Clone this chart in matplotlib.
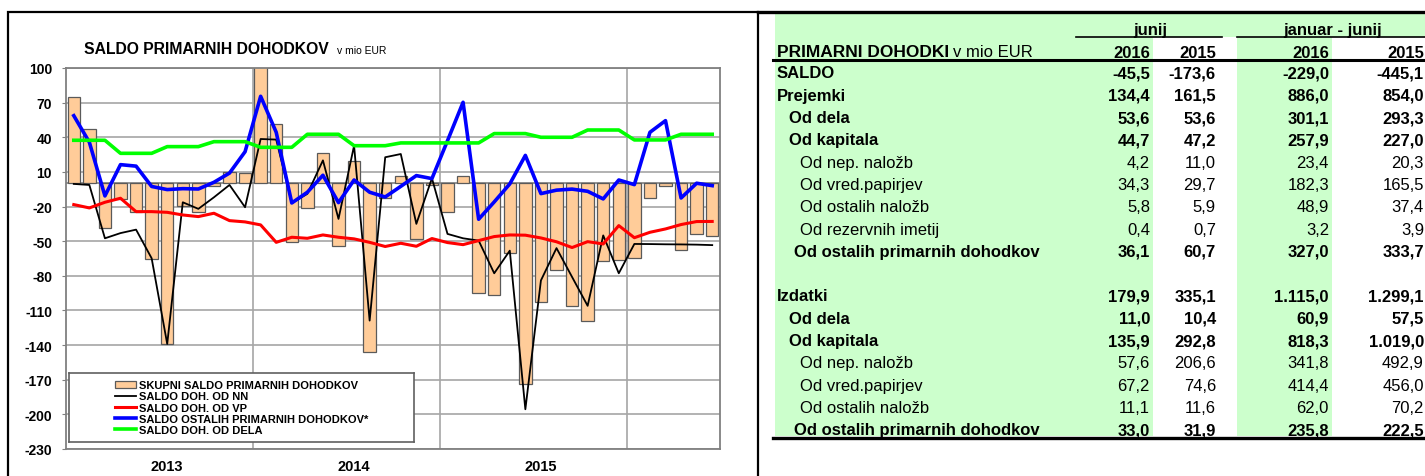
import numpy as np
import matplotlib
matplotlib.use('Agg')
import matplotlib.pyplot as plt
from matplotlib.patches import Rectangle

plt.rcParams['font.family'] = ['Liberation Sans', 'DejaVu Sans']
plt.rcParams['axes.unicode_minus'] = False

# monthly data, jan 2013 - jun 2016 (mio EUR)
year_labels = ['2013', '2014', '2015']
saldo_skupni = [75, 47, -39, -13.5, -25, -65, -139, -19.5, -25, -2.5, 9.5, 9,
                105, 51.5, -51, -21.5, 26.5, -54, 19.3, -146, -12.5, 6.6, -48.5, -1.5,
                -24.4, 6.7, -95, -97, -60, -173.6, -103, -75, -106, -118.8, -66.8, -66,
                -64.8, -13, -2, -58, -43.7, -45.5]
saldo_nn = [-0.4, -1.3, -47.5, -43, -40, -64.8, -139, -16.3, -22, -12, -1.3, -20.6,
            38.5, 38, -17, -9, 20, -30.7, 32.7, -118.8, 22.7, 25.5, -35, 4.5,
            -43.7, -47.5, -49.5, -77.8, -58.2, -195.6, -84, -56, -81, -106, -45, -77.8,
            -52.4, -52.5, -52.7, -52.8, -53, -53.4]
saldo_vp = [-18.3, -21.2, -16.3, -12.8, -24.4, -24.4, -25, -27.3, -28.7, -25.8, -32.2, -33.3,
            -35.9, -51, -46.6, -47.5, -44.6, -46.6, -48, -51, -54.6, -51.8, -54.4, -47.7,
            -51.2, -53, -49.5, -46, -44.6, -44.8, -47.2, -50.5, -55.5, -50.4, -52.4, -36.5,
            -47, -42.3, -39.4, -35.6, -33, -32.9]
saldo_ostali = [58.7, 35.7, -10.8, 16.3, 15, -2.6, -5.3, -4.5, -4.8, 1, 9, 27.5,
                75.5, 44.3, -16.9, -7.6, 7.1, -16.6, 3, -7.6, -11.7, -2.5, 6.8, 4.2,
                37, 70.3, -31, -16, -0.4, 24.3, -8.8, -5.8, -4.9, -6.8, -13.4, 3,
                -1, 44.3, 54.4, -12.6, 0.2, -1.9]
saldo_dela = [37.4, 37.4, 37.4, 26.1, 26.1, 26.1, 31.9, 31.9, 31.9, 36.2, 36.2, 36.2,
              31.3, 31.3, 31.3, 42.6, 42.6, 42.6, 32.7, 32.7, 32.7, 35.1, 35.1, 35.1,
              35.1, 35.1, 35.1, 43.2, 43.2, 43.2, 40, 40, 40, 46.3, 46.3, 46.3,
              37.7, 37.7, 37.7, 42.6, 42.6, 42.6]
series_names = ['SKUPNI SALDO PRIMARNIH DOHODKOV', 'SALDO DOH. OD NN', 'SALDO DOH. OD VP',
                'SALDO OSTALIH PRIMARNIH DOHODKOV*', 'SALDO DOH. OD DELA']

# table
row_labels = ['SALDO', 'Prejemki', 'Od dela', 'Od kapitala', 'Od nep. naložb', 'Od vred.papirjev',
              'Od ostalih naložb', 'Od rezervnih imetij', 'Od ostalih primarnih dohodkov', '',
              'Izdatki', 'Od dela', 'Od kapitala', 'Od nep. naložb', 'Od vred.papirjev',
              'Od ostalih naložb', 'Od ostalih primarnih dohodkov']
row_level = [0, 0, 1, 1, 2, 2, 2, 2, 3, 0, 0, 1, 1, 2, 2, 2, 3]
jun_2016 = [-45.5, 134.4, 53.6, 44.7, 4.2, 34.3, 5.8, 0.4, 36.1, None,
            179.9, 11.0, 135.9, 57.6, 67.2, 11.1, 33.0]
jun_2015 = [-173.6, 161.5, 53.6, 47.2, 11.0, 29.7, 5.9, 0.7, 60.7, None,
            335.1, 10.4, 292.8, 206.6, 74.6, 11.6, 31.9]
jj_2016 = [-229.0, 886.0, 301.1, 257.9, 23.4, 182.3, 48.9, 3.2, 327.0, None,
           1115.0, 60.9, 818.3, 341.8, 414.4, 62.0, 235.8]
jj_2015 = [-445.1, 854.0, 293.3, 227.0, 20.3, 165.5, 37.4, 3.9, 333.7, None,
           1299.1, 57.5, 1019.0, 492.9, 456.0, 70.2, 222.5]


def fmt(v):
    s = f"{v:,.1f}"
    return s.replace(',', 'X').replace('.', ',').replace('X', '.')


W, H = 1425, 477
fig = plt.figure(figsize=(W / 100, H / 100), dpi=100)

# overlay in pixel coords for frame, title and table
ov = fig.add_axes([0, 0, 1, 1], zorder=0)
ov.set_xlim(0, W)
ov.set_ylim(H, 0)
ov.axis('off')

# chart
ax = fig.add_axes([66 / W, 1 - 450 / H, 654 / W, 381 / H], zorder=2)
x = np.arange(len(saldo_skupni))
bars = ax.bar(x, saldo_skupni, width=0.8, color='#FFCC99', edgecolor='#5a5a5a', linewidth=0.9,
              label=series_names[0], zorder=2)
ax.axhline(0, color='#808080', lw=1.2, zorder=1.8)
l1, = ax.plot(x, saldo_nn, color='black', lw=1.3, label=series_names[1], zorder=3)
l2, = ax.plot(x, saldo_vp, color='#FF0000', lw=2.2, label=series_names[2], zorder=3)
l3, = ax.plot(x, saldo_ostali, color='#0000FF', lw=2.6, label=series_names[3], zorder=3)
l4, = ax.plot(x, saldo_dela, color='#00FF00', lw=2.6, label=series_names[4], zorder=3)

ax.set_xlim(-0.5, len(x) - 0.5)
ax.set_ylim(-230, 100)
ax.set_yticks(np.arange(-230, 101, 30))
ax.set_xticks([6, 18, 30])
ax.set_xticklabels(year_labels, fontsize=10.5, fontweight='bold')
ax.set_xticks([11.5, 23.5, 35.5], minor=True)
ax.tick_params(axis='x', which='both', length=0, pad=7)
ax.tick_params(axis='y', length=3, color='#808080', labelsize=10, pad=7)
for lbl in ax.get_yticklabels():
    lbl.set_fontweight('bold')
ax.set_axisbelow(True)
ax.yaxis.grid(True, color='#a6a6a6', lw=1.2)
ax.xaxis.grid(True, which='minor', color='#a6a6a6', lw=1.2)
for sp in ax.spines.values():
    sp.set_color('#808080')
    sp.set_linewidth(1.3)

# legend box
lax = ax.inset_axes([3 / 654, 7 / 381, 345 / 654, 69 / 381], zorder=5)
lax.set_facecolor('white')
lax.set_xticks([])
lax.set_yticks([])
for sp in lax.spines.values():
    sp.set_color('#606060')
    sp.set_linewidth(1.2)
lax.legend([bars, l1, l2, l3, l4], series_names, loc='center', frameon=False,
           prop={'size': 8, 'weight': 'bold'},
           handlelength=1.9, handletextpad=0.3, labelspacing=0.1, borderpad=0)

ov.text(84, 54, 'SALDO PRIMARNIH DOHODKOV', fontsize=11.3, fontweight='bold', va='baseline')
ov.text(337, 54, 'v mio EUR', fontsize=7.5, va='baseline')

# outer frame of chart
ov.plot([8, 8, 758, 758], [H, 13, 13, H], color='black', lw=1.6, solid_joinstyle='miter')

# table background
green = '#CCFFCC'
ov.add_patch(Rectangle((775, 15), W - 775, 23, color=green, lw=0))
ov.add_patch(Rectangle((775, 38), 1153 - 775, 437 - 38, color=green, lw=0))
ov.add_patch(Rectangle((1237, 38), 1332 - 1237, 437 - 38, color=green, lw=0))

# table lines
ov.plot([758, W], [13, 13], color='black', lw=2.4)
ov.plot([773, W], [61, 61], color='black', lw=2.2)
ov.plot([773, W], [439, 439], color='black', lw=2.4)
ov.plot([1076, 1222], [38, 38], color='black', lw=1.2)
ov.plot([1237, W], [38, 38], color='black', lw=1.2)

fs = 12
ov.text(1150, 35, 'junij', fontsize=fs, fontweight='bold', ha='center', va='baseline')
ov.text(1333, 35, 'januar - junij', fontsize=fs, fontweight='bold', ha='center', va='baseline')
ov.text(777, 57, 'PRIMARNI DOHODKI', fontsize=fs + 0.5, fontweight='bold', va='baseline')
ov.text(953, 57, 'v mio EUR', fontsize=fs, va='baseline')

col_x = [1150, 1216, 1329, 1424]
for cx, head in zip(col_x, ['2016', '2015', '2016', '2015']):
    ov.text(cx, 58, head, fontsize=fs, fontweight='bold', ha='right', va='baseline')

indent = {0: 777, 1: 789, 2: 800, 3: 794}
for i, lab in enumerate(row_labels):
    yb = 73 + i * 22.3 + 5.5
    weight = 'normal' if row_level[i] == 2 else 'bold'
    if lab:
        ov.text(indent[row_level[i]], yb, lab, fontsize=fs, fontweight=weight, va='baseline')
    for cx, col in zip(col_x, [jun_2016, jun_2015, jj_2016, jj_2015]):
        if col[i] is not None:
            ov.text(cx, yb, fmt(col[i]), fontsize=fs, fontweight=weight, ha='right', va='baseline')

fig.savefig('out.png', dpi=100)
